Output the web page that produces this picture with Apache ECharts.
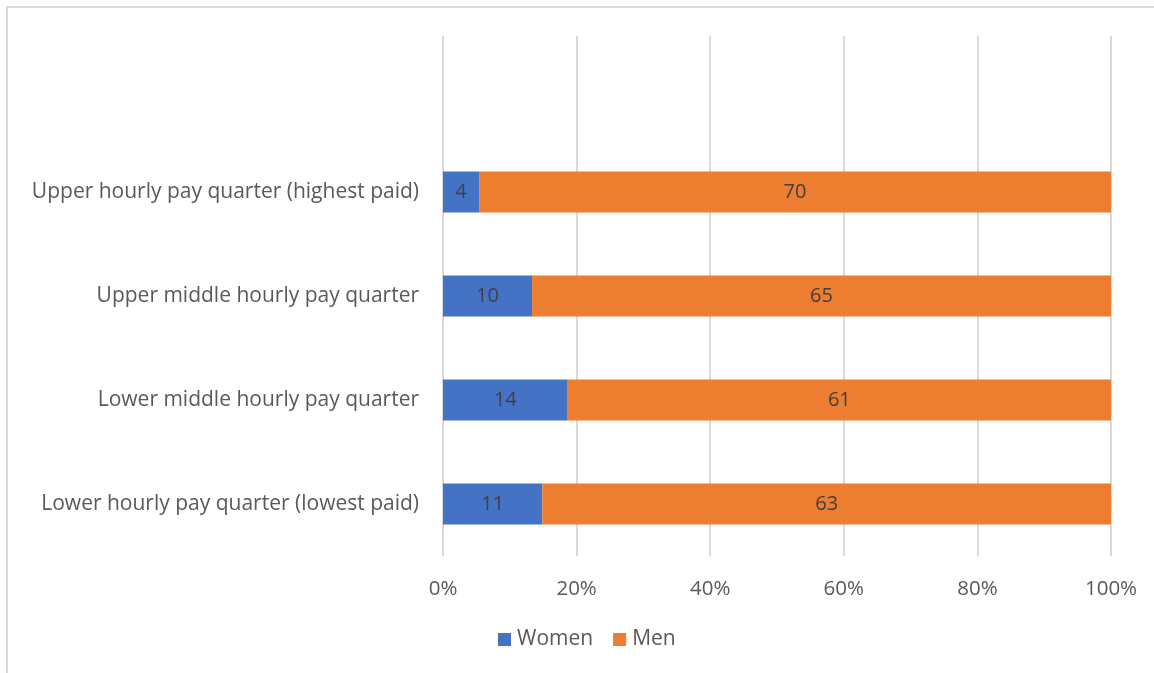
<!DOCTYPE html>
<html>
<head>
<meta charset="utf-8">
<script src="https://cdn.jsdelivr.net/npm/echarts@6/dist/echarts.min.js"></script>
<style>
  html, body { margin: 0; padding: 0; background: #fff; overflow: hidden; }
  #frame { position: absolute; left: 6px; top: 6px; width: 1200px; height: 720px; border: 2px solid #d9d9d9; box-sizing: border-box; }
  #chart { position: absolute; left: 0; top: 0; width: 1154px; height: 673px; }
</style>
</head>
<body>
<div id="frame"></div>
<div id="chart"></div>
<script>
// top row is an empty slot, as in the original chart
const categories = [
  '',
  'Upper hourly pay quarter (highest paid)',
  'Upper middle hourly pay quarter',
  'Lower middle hourly pay quarter',
  'Lower hourly pay quarter (lowest paid)'
]
const women = [null, 4, 10, 14, 11]
const men = [null, 70, 65, 61, 63]
const tickLabels = ['0%', '20%', '40%', '60%', '80%', '100%']

const share = (a, b) => a.map((v, i) => (v == null ? null : { value: (v / (v + b[i])) * 100, raw: v }))

const chart = echarts.init(document.getElementById('chart'))

const font = 'Open Sans'

const labelStyle = {
  show: true,
  color: '#404040',
  fontSize: 20,
  fontFamily: font,
  formatter: (p) => (p.data && p.data.raw != null ? p.data.raw : ''),
}

chart.setOption({
  animation: false,
  textStyle: { fontFamily: font },
  grid: { left: 443, right: 43, top: 36, bottom: 117, containLabel: false },
  legend: {
    bottom: 18,
    left: 493,
    itemWidth: 13,
    itemHeight: 13,
    itemGap: 20,
    icon: 'rect',
    textStyle: { color: '#595959', fontSize: 21, fontFamily: font, padding: [0, 0, 0, 1] },
    data: ['Women', 'Men'],
  },
  xAxis: {
    type: 'value',
    min: 0,
    max: 100,
    interval: 20,
    axisLine: { show: false },
    axisTick: { show: false },
    splitLine: { lineStyle: { color: '#d9d9d9', width: 2 } },
    axisLabel: {
      color: '#595959',
      fontSize: 20.5,
      margin: 23,
      formatter: (v) => tickLabels[v / 20],
    },
  },
  yAxis: {
    type: 'category',
    inverse: true,
    data: categories,
    axisLine: { show: false },
    axisTick: { show: false },
    axisLabel: { color: '#595959', fontSize: 21, margin: 24 },
  },
  series: [
    {
      name: 'Women',
      type: 'bar',
      stack: 'total',
      barWidth: 41,
      itemStyle: { color: '#4472c4' },
      label: labelStyle,
      data: share(women, men),
    },
    {
      name: 'Men',
      type: 'bar',
      stack: 'total',
      barWidth: 41,
      itemStyle: { color: '#ed7d31' },
      label: labelStyle,
      data: share(men, women),
    },
  ],
})
</script>
</body>
</html>
